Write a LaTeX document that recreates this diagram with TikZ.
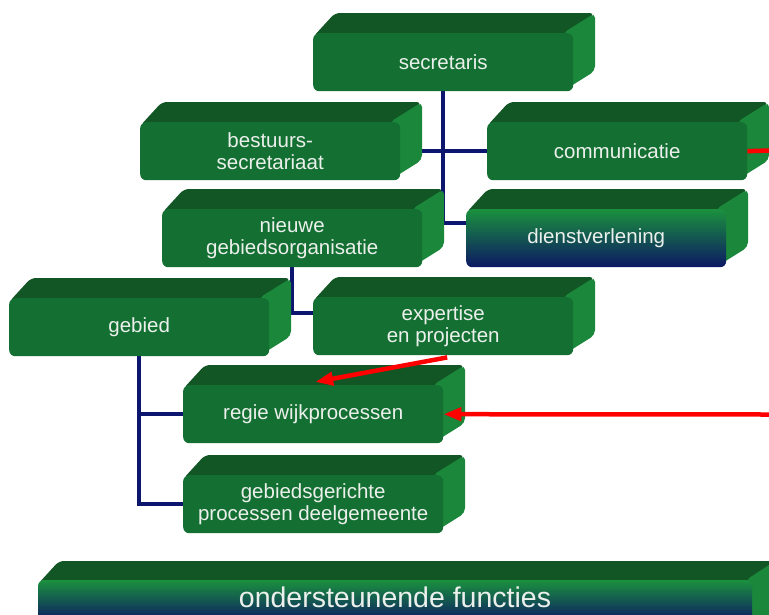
\documentclass[tikz,border=0pt]{standalone}
\usepackage{fontspec}
\setmainfont{Liberation Sans}
\usetikzlibrary{backgrounds,arrows.meta,calc}
\definecolor{frontc}{RGB}{20,112,50}
\definecolor{topc}{RGB}{18,86,37}
\definecolor{sidec}{RGB}{26,135,58}
\definecolor{gradtop}{RGB}{27,145,62}
\definecolor{gradbot}{RGB}{12,24,100}
\definecolor{navyc}{RGB}{13,22,110}
\definecolor{redc}{RGB}{255,0,0}
\definecolor{textc}{RGB}{236,240,236}
\tikzset{
  frontface/.style={fill=frontc, rounded corners=6pt, inner sep=0pt, text=textc,
    font=\fontsize{20.5}{22}\selectfont, align=center,
    minimum width=260pt, minimum height=58pt, anchor=north west},
  gradface/.style={frontface, fill=none, top color=gradtop, bottom color=gradbot},
  topface/.style={fill=topc, rounded corners=5pt},
  sideface/.style={fill=sidec, rounded corners=5pt},
  orgline/.style={draw=navyc, line width=3.6pt},
  redline/.style={draw=redc, line width=4.5pt},
  redarrow/.style={redline, -{Triangle[length=18pt,width=13pt]}},
  bigtext/.style={text=textc, inner sep=0pt, font=\fontsize{28.5}{30}\selectfont},
}
\newcommand{\threedbox}[5]{%
  \fill[topface] (#2,#3+4) -- (#2+22,#3-20) -- (#2+282,#3-20) -- (#2+256,#3+4) -- cycle;
  \fill[sideface] (#2+250,#3) -- (#2+282,#3-20) -- (#2+282,#3+38) -- (#2+250,#3+58) -- cycle;
  \node[#4] (#1) at (#2,#3) {#5};
}
\begin{document}
\begin{tikzpicture}[x=1pt,y=-1pt]
\clip (0,0) rectangle (769,614);
\useasboundingbox (0,0) rectangle (769,614);

\threedbox{secretaris}{313}{33}{frontface}{secretaris}
\threedbox{bestuurs}{140}{122}{frontface}{bestuurs-\\secretariaat}
\threedbox{communicatie}{487}{122}{frontface}{communicatie}
\threedbox{nieuwe}{162}{209}{frontface}{nieuwe\\gebiedsorganisatie}
\threedbox{dienstverlening}{466}{209}{gradface}{dienstverlening}
\threedbox{gebied}{9}{298}{frontface}{gebied}
\threedbox{expertise}{313}{297}{frontface}{expertise\\en projecten}
\threedbox{regie}{183}{385}{frontface}{regie wijkprocessen}
\threedbox{gebiedsgericht}{183}{475}{frontface}{gebiedsgerichte\\processen deelgemeente}

% ondersteunende functies
\fill[topface] (38,584) -- (59,561) -- (775,561) -- (752,584) -- cycle;
\fill[sideface] (746,580) -- (775,561) -- (775,640) -- (746,660) -- cycle;
\shade[top color=gradtop, bottom color=gradbot, rounded corners=6pt] (38,580) rectangle (752,622);
\node[bigtext] (ondersteunend) at (395,597) {ondersteunende functies};

\begin{scope}[on background layer]
  \draw[orgline] (secretaris.south) |- ($(dienstverlening.north west)+(26,14)$);
  \draw[orgline] (bestuurs.east |- communicatie.west) -- (communicatie.west);
  \draw[orgline] (nieuwe.south) |- ($(expertise.north west)+(32,16)$);
  \draw[orgline] (gebied.south) |- (gebiedsgericht.west);
  \draw[orgline] (gebied.south |- regie.west) -- (regie.west);
\end{scope}

\coordinate (rin) at (769,414.5);
\coordinate (rout) at (769,150.5);
\draw[redline] (communicatie.east) -- (rout);
\draw[redarrow] (rin) -- (regie.east);
\draw[redarrow] ($(expertise.south)+(4,2)$) -- ($(regie.north)+(2,-3)$);
\end{tikzpicture}
\end{document}
